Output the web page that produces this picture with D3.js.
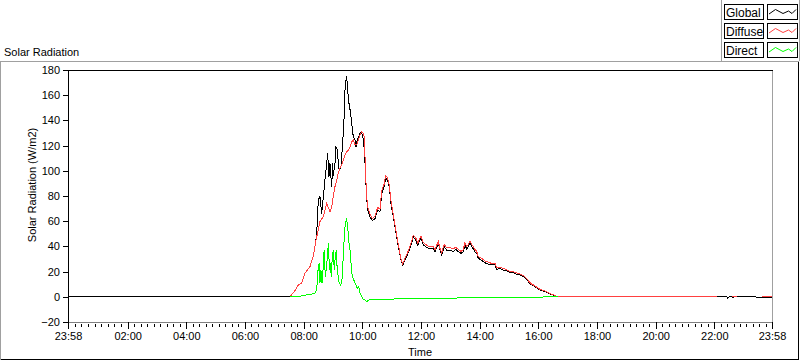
<!DOCTYPE html>
<html>
<head>
<meta charset="utf-8">
<script src="https://cdn.jsdelivr.net/npm/d3@7"></script>
<style>
  body { margin: 0; background: #fff; }
  svg { display: block; font-family: "Liberation Sans", Arial, sans-serif; }
  .axis text { font-size: 11px; fill: #000; }
</style>
</head>
<body>
<svg width="800" height="361"></svg>
<script>
// time in hours of day (axis runs 23:58 -> 23:58)
var globalTime = [-0.033, 7.534, 7.704, 7.817, 7.933, 8.045, 8.216, 8.328, 8.420, 8.464, 8.499, 8.556, 8.614, 8.669, 8.727, 8.785, 8.819, 8.863, 8.897, 8.955, 8.989, 9.010, 9.068, 9.102, 9.146, 9.180, 9.214, 9.272, 9.330, 9.375, 9.409, 9.443, 9.467, 9.501, 9.545, 9.603, 9.637, 9.692, 9.750, 9.784, 9.828, 9.897, 9.955, 10.013, 10.057, 10.108, 10.142, 10.183, 10.261, 10.340, 10.432, 10.524, 10.602, 10.660, 10.739, 10.797, 10.851, 10.920, 10.977, 11.056, 11.114, 11.172, 11.250, 11.318, 11.376, 11.454, 11.533, 11.601, 11.683, 11.738, 11.820, 11.888, 11.966, 12.000, 12.079, 12.160, 12.249, 12.341, 12.419, 12.477, 12.589, 12.647, 12.705, 12.794, 12.876, 12.988, 13.101, 13.183, 13.272, 13.364, 13.442, 13.500, 13.558, 13.612, 13.670, 13.728, 13.783, 13.841, 13.899, 13.953, 14.069, 14.182, 14.294, 14.410, 14.523, 14.580, 14.693, 14.806, 14.921, 15.034, 15.146, 15.262, 15.375, 15.487, 15.569, 15.658, 15.774, 15.886, 15.999, 16.115, 16.227, 16.340, 16.456, 16.568, 16.681, 22.43, 22.46, 22.50, 22.61, 22.64, 22.67, 23.42, 23.45, 23.967];
var globalVal = [0, 0, 5, 9.4, 11, 18.6, 24, 32, 45, 58, 77, 79.5, 66, 79, 92.7, 106, 114, 95, 106, 87, 106, 96, 106, 119, 117, 107, 100, 103, 122, 140, 164, 172, 175, 164, 153.6, 145.6, 137.7, 127, 124.5, 119, 124.5, 128.4, 131, 128, 119, 100, 80, 69, 63.6, 60.4, 62, 69, 67.6, 82, 87.4, 94, 93, 87, 74, 63.6, 55.6, 47.7, 37, 29, 25, 29, 33, 37, 42.5, 47.7, 45, 41, 45, 46.6, 41, 39.8, 38.5, 38, 38.5, 35.8, 42.5, 37, 33, 39.8, 37, 37, 36, 37.8, 35.8, 34.5, 35.8, 41, 38, 39.8, 43, 39.8, 38, 35.8, 34.5, 30.5, 29, 27, 26, 25.4, 25.4, 21.8, 22.5, 21.2, 20.7, 19.2, 19, 18, 17.3, 16, 14.8, 12, 9.4, 8.2, 6, 5, 4.3, 3, 1.8, 1, 0, 0, -1, 0, 0, -1, 0, 0, -0.8, -0.8];

var diffuseTime = [7.534, 7.704, 7.817, 7.933, 8.045, 8.216, 8.328, 8.420, 8.499, 8.556, 8.669, 8.727, 8.785, 8.840, 8.897, 8.955, 9.010, 9.068, 9.126, 9.180, 9.239, 9.297, 9.351, 9.409, 9.467, 9.522, 9.580, 9.637, 9.692, 9.750, 9.808, 9.862, 9.920, 9.978, 10.033, 10.067, 10.108, 10.142, 10.183, 10.261, 10.340, 10.432, 10.524, 10.602, 10.660, 10.739, 10.797, 10.851, 10.920, 10.977, 11.056, 11.114, 11.172, 11.250, 11.318, 11.376, 11.454, 11.533, 11.601, 11.683, 11.738, 11.820, 11.888, 11.966, 12.000, 12.079, 12.160, 12.249, 12.341, 12.419, 12.477, 12.589, 12.647, 12.705, 12.794, 12.876, 12.988, 13.101, 13.183, 13.272, 13.364, 13.442, 13.500, 13.558, 13.612, 13.670, 13.728, 13.783, 13.841, 13.899, 13.953, 14.069, 14.182, 14.294, 14.410, 14.523, 14.580, 14.693, 14.806, 14.921, 15.034, 15.146, 15.262, 15.375, 15.487, 15.569, 15.658, 15.774, 15.886, 15.999, 16.115, 16.227, 16.340, 16.456, 16.568, 16.681, 22.09, 22.10, 22.60, 22.78, 22.79, 23.61, 23.62, 23.967];
var diffuseVal = [0, 5, 9.4, 11, 18.6, 24, 32, 45, 53, 59.6, 63.6, 69, 74, 71, 67.5, 71, 79.4, 87.4, 92.7, 98, 102, 104.6, 108.6, 112.5, 115, 116.5, 119, 123, 124.5, 120.5, 120.5, 124.5, 128.4, 131, 130, 127, 101, 81, 71, 65.5, 62, 64, 71, 69.5, 84, 89, 96, 95, 89, 76, 65, 57, 49, 38.5, 30, 26, 30.5, 34.5, 38.5, 44, 49, 47, 42.5, 46.5, 48, 43, 41.5, 40, 39.5, 40, 37.5, 44, 38.5, 35, 41.5, 39, 39, 38, 39.5, 37.5, 36, 37.5, 43, 40, 41.5, 44.5, 41.5, 40, 37.5, 36, 32, 30.5, 28.5, 27.5, 26.5, 26.5, 23, 23.5, 22.5, 21.5, 20, 20, 19, 18, 17, 15.5, 12.8, 10, 8.8, 6.6, 5.5, 4.6, 3.3, 2, 1.1, 0, 0, null, 0, 0, null, null, 0, 0];

var directTime = [7.534, 7.876, 8.104, 8.274, 8.387, 8.445, 8.499, 8.533, 8.556, 8.591, 8.625, 8.649, 8.683, 8.703, 8.737, 8.785, 8.819, 8.853, 8.874, 8.908, 8.942, 8.976, 9.010, 9.044, 9.078, 9.112, 9.146, 9.180, 9.214, 9.262, 9.306, 9.351, 9.398, 9.432, 9.467, 9.501, 9.535, 9.580, 9.614, 9.658, 9.716, 9.784, 9.828, 9.876, 9.920, 9.978, 10.033, 10.091, 10.149, 10.261, 10.602, 10.943, 11.172, 11.728, 12.988, 14.250, 15.375, 16.10, 16.296, 16.45, 16.681];
var directVal = [0, 0.5, 1.5, 2, 3, 5.4, 24, 26.6, 10.7, 21, 10.7, 16, 33, 37, 16, 24, 37, 42.5, 21, 26.6, 16, 32, 37, 21, 32, 37, 21, 16, 10.7, 9.4, 13, 32, 53, 59.6, 61.5, 56, 45, 37, 26.6, 16, 13, 9.4, 6.7, 8, 3, 0, -2, -2.5, -3.9, -2, -2.5, -2.5, -1.2, -1.2, -1, -0.8, -0.8, -0.5, 0.6, 0.2, 0];

var seriesNames = ["Global", "Diffuse", "Direct"];
var seriesColors = ["#000000", "#ff4040", "#00ff00"];

var yTicks = [-20, 0, 20, 40, 60, 80, 100, 120, 140, 160, 180];
var xTicks = [-2/60, 2, 4, 6, 8, 10, 12, 14, 16, 18, 20, 22, 24 - 2/60];
var xTickLabels = ["23:58", "02:00", "04:00", "06:00", "08:00", "10:00", "12:00", "14:00", "16:00", "18:00", "20:00", "22:00", "23:58"];

var svg = d3.select('svg');

var plot = {left: 68, right: 772, top: 70, bottom: 322};

var x = d3.scaleLinear()
  .domain([-2/60, 24 - 2/60])
  .range([plot.left, plot.right]);

var y = d3.scaleLinear()
  .domain([-20, 180])
  .range([plot.bottom, plot.top]);

// outer panel
svg.append('rect').attr('x', 0).attr('y', 0).attr('width', 800).attr('height', 361).attr('fill', '#fff');
svg.append('path')
  .attr('d', 'M0.5,359.5 V61.5 H798.5')
  .attr('fill', 'none').attr('stroke', '#a0a0a0').attr('shape-rendering', 'crispEdges');
svg.append('path')
  .attr('d', 'M0.5,359.5 H798.5 V61.5')
  .attr('fill', 'none').attr('stroke', '#000').attr('shape-rendering', 'crispEdges');

// legend panel
svg.append('path')
  .attr('d', 'M721.5,0 V61 M799.5,0 V61')
  .attr('stroke', '#a0a0a0').attr('shape-rendering', 'crispEdges');

svg.append('text')
  .attr('x', 4).attr('y', 56)
  .attr('font-size', '11px')
  .text('Solar Radiation');

// plot frame
svg.append('rect')
  .attr('x', plot.left + 0.5).attr('y', plot.top + 0.5)
  .attr('width', plot.right - plot.left).attr('height', plot.bottom - plot.top)
  .attr('fill', '#fff').attr('stroke', 'none');
svg.append('path')
  .attr('d', 'M' + (plot.left + 0.5) + ',' + (plot.top + 0.5) + ' H' + (plot.right + 0.5))
  .attr('stroke', '#000').attr('shape-rendering', 'crispEdges');
svg.append('path')
  .attr('d', 'M' + (plot.right + 0.5) + ',' + (plot.top + 0.5) + ' V' + (plot.bottom + 0.5))
  .attr('stroke', '#a0a0a0').attr('shape-rendering', 'crispEdges');

// y axis
var yAxis = svg.append('g')
  .attr('class', 'axis')
  .attr('transform', 'translate(' + plot.left + ',0)')
  .call(d3.axisLeft(y).tickValues(yTicks).tickSize(5).tickPadding(3));
yAxis.select('.domain').attr('stroke', '#000');
yAxis.selectAll('line, path').attr('shape-rendering', 'crispEdges');

// x axis
var xAxis = svg.append('g')
  .attr('class', 'axis')
  .attr('transform', 'translate(0,' + plot.bottom + ')')
  .call(d3.axisBottom(x).tickValues(xTicks)
    .tickFormat(function(d, i) { return xTickLabels[i]; })
    .tickSize(7).tickSizeOuter(0).tickPadding(3));
xAxis.select('.domain').attr('stroke', '#808080');
xAxis.selectAll('line, path').attr('shape-rendering', 'crispEdges');

// minor ticks, 8 between each pair of labelled ticks
var minor = [];
for (var i = 0; i < xTicks.length - 1; i++) {
  var step = (xTicks[i + 1] - xTicks[i]) / 9;
  for (var k = 1; k < 9; k++) minor.push(xTicks[i] + k * step);
}
xAxis.selectAll('line.minor')
  .data(minor)
  .enter().append('line')
  .attr('class', 'minor')
  .attr('x1', function(d) { return Math.round(x(d)) + 0.5; })
  .attr('x2', function(d) { return Math.round(x(d)) + 0.5; })
  .attr('y1', 2).attr('y2', 5)
  .attr('stroke', '#000')
  .attr('shape-rendering', 'crispEdges');

svg.append('text')
  .attr('x', (plot.left + plot.right) / 2).attr('y', 356)
  .attr('text-anchor', 'middle').attr('font-size', '11px')
  .text('Time');

svg.append('text')
  .attr('transform', 'translate(36,185) rotate(-90)')
  .attr('text-anchor', 'middle').attr('font-size', '11px')
  .text('Solar Radiation (W/m2)');

// series
var series = [
  globalTime.map(function(t, i) { return {t: t, v: globalVal[i]}; }),
  diffuseTime.map(function(t, i) { return {t: t, v: diffuseVal[i]}; }),
  directTime.map(function(t, i) { return {t: t, v: directVal[i]}; })
];

var line = d3.line()
  .defined(function(d) { return d.v !== null; })
  .x(function(d) { return x(d.t); })
  .y(function(d) { return y(d.v); });

svg.append('g').selectAll('path.series')
  .data(series)
  .enter().append('path')
  .attr('class', 'series')
  .attr('d', line)
  .attr('fill', 'none')
  .attr('stroke', function(d, i) { return seriesColors[i]; })
  .attr('stroke-width', 1)
  .attr('shape-rendering', 'crispEdges');

// legend
var legend = svg.append('g').selectAll('g.item')
  .data(seriesNames)
  .enter().append('g')
  .attr('class', 'item')
  .attr('transform', function(d, i) { return 'translate(724,' + (4 + i * 19) + ')'; });

legend.append('rect')
  .attr('x', 0.5).attr('y', 0.5).attr('width', 39).attr('height', 15)
  .attr('fill', '#fff').attr('stroke', '#000').attr('shape-rendering', 'crispEdges');
legend.append('text')
  .attr('x', 2).attr('y', 12.5)
  .attr('font-size', '12px')
  .text(function(d) { return d; });
legend.append('rect')
  .attr('x', 43.5).attr('y', 0.5).attr('width', 30).attr('height', 15)
  .attr('fill', '#fff').attr('stroke', '#000').attr('shape-rendering', 'crispEdges');
legend.append('path')
  .attr('d', 'M45,10 L51.5,5.5 L59,9.5 L64.5,7 L68,9.5 L72,5.5')
  .attr('fill', 'none')
  .attr('stroke', function(d, i) { return seriesColors[i]; });
</script>
</body>
</html>
